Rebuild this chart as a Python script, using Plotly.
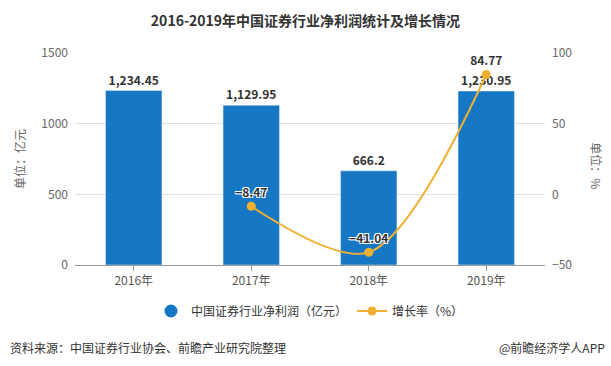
import plotly.graph_objects as go

years = ["2016年", "2017年", "2018年", "2019年"]
profit = [1234.45, 1129.95, 666.2, 1230.95]
growth = [None, -8.47, -41.04, 84.77]
profit_labels = ["1,234.45", "1,129.95", "666.2", "1,230.95"]
growth_labels = ["", "−8.47", "−41.04", "84.77"]

FONT = "Noto Sans CJK SC, Microsoft YaHei, sans-serif"
BAR_C = "#1677c5"
LINE_C = "#f0b132"

fig = go.Figure()
fig.add_trace(go.Bar(
    x=years, y=profit, name="中国证券行业净利润（亿元）",
    marker=dict(color=BAR_C), width=0.48,
    text=profit_labels, textposition="outside",
    textfont=dict(size=12, color="#333333", family=FONT, weight="bold"),
    cliponaxis=False, showlegend=False, yaxis="y",
))
fig.add_trace(go.Scatter(
    x=[None], y=[None], mode="markers", name="中国证券行业净利润（亿元）",
    marker=dict(color=BAR_C, size=13, symbol="circle"),
))
fig.add_trace(go.Scatter(
    x=years, y=growth, name="增长率（%）", yaxis="y2",
    mode="lines+markers+text", line=dict(color=LINE_C, width=2, shape="spline", smoothing=0.9),
    marker=dict(color=LINE_C, size=9),
    text=growth_labels, textposition="top center",
    textfont=dict(size=12, color="#333333", family=FONT, weight="bold",
                  shadow="1px 1px 0 #fff, -1px -1px 0 #fff, 1px -1px 0 #fff, -1px 1px 0 #fff"),
    cliponaxis=False, connectgaps=False,
))

fig.update_layout(
    width=611, height=366,
    margin=dict(l=75, r=66, t=53, b=101, autoexpand=False),
    paper_bgcolor="white", plot_bgcolor="white",
    font=dict(family=FONT, size=12, color="#666666"),
    title=dict(text="<b>2016-2019年中国证券行业净利润统计及增长情况</b>",
               x=0.5, xanchor="center", y=1 - 21 / 366, yanchor="middle",
               font=dict(size=14, color="#333333", family=FONT)),
    bargap=0.52,
    xaxis=dict(showline=True, linecolor="#999999", ticks="outside", ticklen=5,
               tickcolor="#999999", tickfont=dict(size=12, color="#555555"), showgrid=False,
               automargin=False),
    yaxis=dict(range=[0, 1500], tickvals=[0, 500, 1000, 1500], showgrid=True,
               gridcolor="#e0e0e0", zeroline=False, tickfont=dict(size=12, color="#666666"),
               ticklabelstandoff=6, automargin=False),
    yaxis2=dict(range=[-50, 100], tickvals=[-50, 0, 50, 100], overlaying="y", side="right",
                showgrid=False, zeroline=False, tickfont=dict(size=12, color="#666666"),
                ticklabelstandoff=6, automargin=False),
    legend=dict(orientation="h", x=0.5, xanchor="center", y=-0.217, yanchor="middle",
                font=dict(size=12, color="#333333"), itemwidth=30),
    showlegend=True,
)

fig.add_annotation(text="单位：亿元", xref="paper", yref="paper", x=(19 - 75) / 470, y=0.5,
                   xanchor="center", yanchor="middle",
                   textangle=-90, showarrow=False, font=dict(size=12, color="#666666"))
fig.add_annotation(text="单位：%", xref="paper", yref="paper", x=(597 - 75) / 470, y=0.47,
                   xanchor="center", yanchor="middle",
                   textangle=90, showarrow=False, font=dict(size=12, color="#666666"))
fig.add_annotation(text="资料来源：中国证券行业协会、前瞻产业研究院整理", xref="paper", yref="paper",
                   x=(8 - 75) / 470, y=(265 - 347) / 212, xanchor="left", yanchor="middle",
                   showarrow=False, font=dict(size=12, color="#333333"))
fig.add_annotation(text="@前瞻经济学人APP", xref="paper", yref="paper",
                   x=(607 - 75) / 470, y=(265 - 347) / 212, xanchor="right", yanchor="middle",
                   showarrow=False, font=dict(size=12, color="#333333"))

fig.write_html("out.html", config={"displayModeBar": False},
               post_script="document.body.style.margin='0';document.body.style.overflow='hidden';")
